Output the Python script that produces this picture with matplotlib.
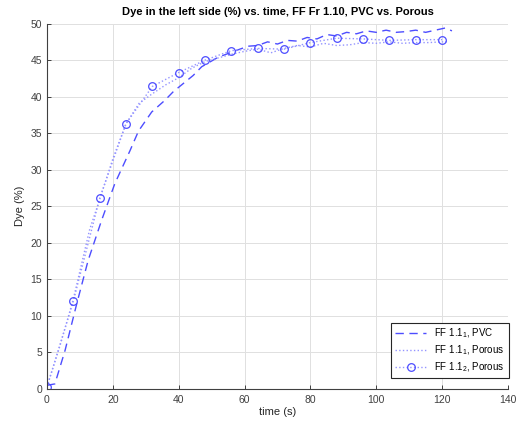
import numpy as np
import matplotlib
matplotlib.use('Agg')
import matplotlib.pyplot as plt

plt.rcParams['font.family'] = ['Liberation Sans', 'DejaVu Sans']
plt.rcParams['mathtext.fontset'] = 'custom'
plt.rcParams['mathtext.rm'] = 'Liberation Sans'

# FF 1.1_1, PVC (dashed)
t_pvc = [0, 2.4, 5.5, 9, 12.5, 16.6, 20.6, 25.2, 27.8, 31.8, 35.8, 38.4, 41.4, 44.4, 47, 52,
         55, 58, 61, 64, 67, 70, 73, 76, 79, 82, 85, 88, 91, 94, 97, 100, 103, 106,
         109, 112, 115, 118, 121, 123]
y_pvc = [0.5, 0.7, 5.3, 11.6, 17.6, 23.1, 28.1, 32.6, 35.3, 37.9, 39.5, 40.7, 41.8, 42.9, 44.1, 45.4,
         45.9, 46.4, 46.9, 47.0, 47.5, 47.2, 47.7, 47.6, 48.1, 47.9, 48.5, 48.3, 48.8, 48.6, 49.0, 48.8,
         49.1, 48.8, 48.9, 49.1, 48.8, 49.1, 49.4, 49.0]

# FF 1.1_1, Porous (dotted)
t_por1 = [0, 4, 8, 13, 15.4, 20, 24, 28, 32, 36, 40, 44, 48, 52, 56, 60, 64, 68, 72,
          76, 80, 84, 88, 92, 96, 100, 104, 108, 112, 116, 120, 122]
y_por1 = [0.3, 6.0, 12.3, 21.9, 25.1, 31.5, 36.3, 39.1, 40.4, 41.6, 42.6, 43.9, 44.8, 45.3, 45.8, 46.2,
          46.5, 46.0, 46.6, 47.0, 46.8, 47.3, 47.0, 47.1, 47.4, 47.3, 47.5, 47.3, 47.4, 47.4, 47.5, 47.5]

# FF 1.1_2, Porous (dotted with markers)
t_por2 = [0, 8, 16, 24, 32, 40, 48, 56, 64, 72, 80, 88, 96, 104, 112, 120]
y_por2 = [0.3, 12.0, 26.1, 36.3, 41.4, 43.3, 45.0, 46.3, 46.6, 46.5, 47.4, 48.0, 47.9, 47.7, 47.8, 47.8]

fig = plt.figure(figsize=(5.25, 4.21), dpi=100)
ax = fig.add_axes([0.0895, 0.076, 0.878, 0.868])

ax.plot(t_pvc, y_pvc, '--', color='#4d4dff', lw=1.0, dashes=(6, 4), label='FF 1.1$_1$, PVC')
ax.plot(t_por1, y_por1, ':', color='#9494ff', lw=1.0, label='FF 1.1$_1$, Porous')
ax.plot(t_por2, y_por2, ':', color='#9494ff', lw=1.0, marker='o', ms=5.5, mfc='none',
        mec='#4d4dff', mew=0.9, label='FF 1.1$_2$, Porous')

ax.set_xlim(0, 140)
ax.set_ylim(0, 50)
ax.set_xticks(np.arange(0, 141, 20))
ax.set_yticks(np.arange(0, 51, 5))
ax.grid(True, color='#e0e0e0', lw=0.7)
ax.set_axisbelow(True)
for s in ['top', 'right']:
    ax.spines[s].set_visible(False)
for s in ['left', 'bottom']:
    ax.spines[s].set_color('#404040')
    ax.spines[s].set_linewidth(0.8)
ax.tick_params(direction='in', length=3, width=0.7, colors='#404040', labelsize=7.5)
ax.tick_params(axis='x', pad=4)

ax.set_title('Dye in the left side (%) vs. time, FF Fr 1.10, PVC vs. Porous',
             fontsize=8, fontweight='bold', pad=6)
ax.set_xlabel('time (s)', fontsize=8, labelpad=2, color='#262626')
ax.set_ylabel('Dye (%)', fontsize=8, labelpad=4, color='#262626')

leg = ax.legend(loc='lower right', fontsize=7, frameon=True, fancybox=False,
                edgecolor='#262626', framealpha=1, borderpad=0.4, labelspacing=0.35,
                handlelength=3.2, bbox_to_anchor=(1.012, 0.016))
leg.get_frame().set_linewidth(0.8)

fig.savefig('out.png', dpi=100)
